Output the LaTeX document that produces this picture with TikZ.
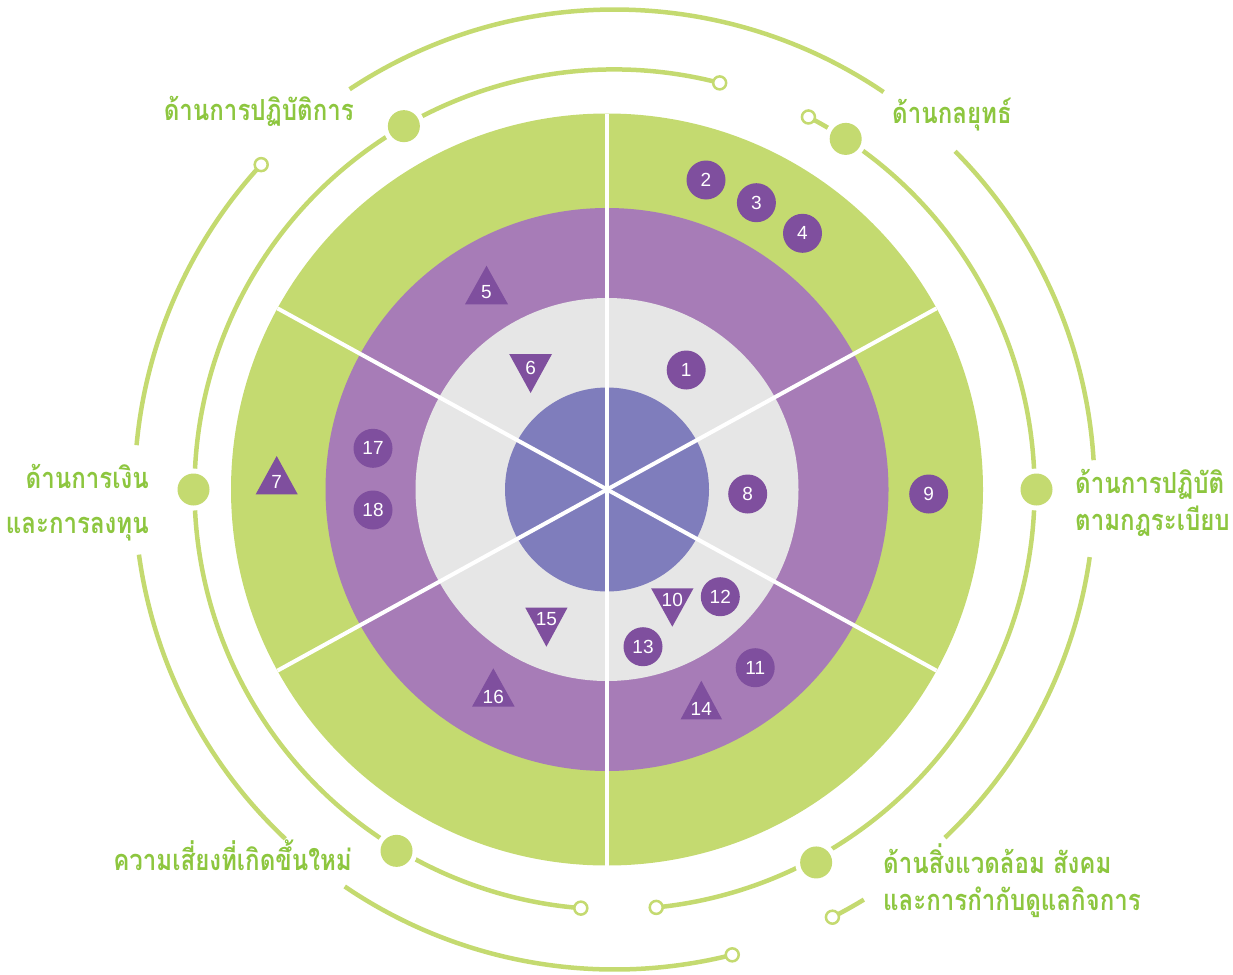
\documentclass[tikz,border=0pt]{standalone}
\usepackage{fontspec}
\usetikzlibrary{calc}
\newfontfamily\thaifont[Script=Thai, FakeStretch=0.83]{Loma}
\newfontfamily\numfont{Liberation Sans}
\definecolor{ringgreen}{RGB}{196,218,112}
\definecolor{labelgreen}{RGB}{141,198,63}
\definecolor{ringpurple}{RGB}{167,124,183}
\definecolor{ringgray}{RGB}{230,230,230}
\definecolor{coreblue}{RGB}{127,125,188}
\definecolor{markpurple}{RGB}{127,79,158}
\begin{document}
\begin{tikzpicture}[x=1pt,y=-1pt,
  arcline/.style={draw=ringgreen, line width=4.5},
  bigdot/.style={circle, fill=ringgreen, minimum size=32, inner sep=0pt, outer sep=0pt, preaction={draw=white, line width=10}},
  smalldot/.style={circle, draw=ringgreen, fill=white, line width=2.5, minimum size=13, inner sep=0pt},
  mcirc/.style={circle, fill=markpurple, minimum size=39, inner sep=0pt, text=white, font=\numfont\fontsize{19}{20}\selectfont},
  mnum/.style={inner sep=0pt, text=white, font=\numfont\fontsize{19}{20}\selectfont},
  lbl/.style={inner sep=0pt, text=labelgreen, font=\thaifont\bfseries\fontsize{29}{32}\selectfont},
  divider/.style={draw=white, line width=4}]
\useasboundingbox (0,0) rectangle (1233,974);
% ---- disc ----
\coordinate (O) at (607,489.5);
\fill[ringgreen] (O) circle (376);
\fill[ringpurple] (O) circle (281.5);
\fill[ringgray] (O) circle (191.5);
\fill[coreblue] (O) circle (102);
\draw[divider] ($(O)+(0,-376)$) -- ($(O)+(0,376)$);
\draw[divider] ($(O)+(28.8:376)$) -- ($(O)+(208.8:376)$);
\draw[divider] ($(O)+(-28.8:376)$) -- ($(O)+(151.2:376)$);
% ---- orbit arcs ----
\begin{scope}[shift={(614.5,489.5)}, yscale=-1]
  % inner ring
  \draw[arcline] (75.5:420) arc[start angle=75.5, end angle=265.4, radius=420];
  \draw[arcline] (62.5:420) arc[start angle=62.5, end angle=-84.3, radius=420];
  % outer ring
  \draw[arcline] (137.4:480) arc[start angle=137.4, end angle=174.7, radius=480];
  \draw[arcline] (187.8:480) arc[start angle=187.8, end angle=226.7, radius=480];
  \draw[arcline] (235.8:480) arc[start angle=235.8, end angle=284.2, radius=480];
  \draw[arcline] (55.9:480) arc[start angle=55.9, end angle=123.5, radius=480];
  \draw[arcline] (3.5:480) arc[start angle=3.5, end angle=44.8, radius=480];
  \draw[arcline] (-46.5:480) arc[start angle=-46.5, end angle=-8.1, radius=480];
  \draw[arcline] (-63:480) arc[start angle=-63, end angle=-58.7, radius=480];
  % big dots
  \node[bigdot] (dOps) at (120.1:420) {};
  \node[bigdot] (dStr) at (56.6:420) {};
  \node[bigdot] (dCmp) at (0:422) {};
  \node[bigdot] (dFin) at (180:421) {};
  \node[bigdot] (dEmg) at (238.9:422) {};
  \node[bigdot] (dEsg) at (-61.6:424) {};
  % small open dots
  \node[smalldot] (s1) at (75.5:420) {};
  \node[smalldot] (s2) at (62.5:420) {};
  \node[smalldot] (s3) at (265.4:420) {};
  \node[smalldot] (s4) at (-84.3:420) {};
  \node[smalldot] (s5) at (137.4:480) {};
  \node[smalldot] (s6) at (284.2:480) {};
  \node[smalldot] (s7) at (-63:480) {};
\end{scope}
% ---- labels ----
\node[lbl, anchor=base east] (lOps) at (354,120) {ด้านการปฏิบัติการ};
\node[lbl, anchor=base west] (lStr) at (892,123) {ด้านกลยุทธ์};
\node[lbl, anchor=base west] (lCmp1) at (1075,493) {ด้านการปฏิบัติ};
\node[lbl, anchor=base west] (lCmp2) at (1075,530) {ตามกฎระเบียบ};
\node[lbl, anchor=base east] (lFin1) at (149,488) {ด้านการเงิน};
\node[lbl, anchor=base east] (lFin2) at (149,533) {และการลงทุน};
\node[lbl, anchor=base east] (lEmg) at (352,870) {ความเสี่ยงที่เกิดขึ้นใหม่};
\node[lbl, anchor=base west] (lEsg1) at (883,873) {ด้านสิ่งแวดล้อม สังคม};
\node[lbl, anchor=base west] (lEsg2) at (883,910) {และการกำกับดูแลกิจการ};
% ---- circle markers ----
\node[mcirc] (m1) at (686.2,370) {1};
\node[mcirc] (m2) at (706,180) {2};
\node[mcirc] (m3) at (756.4,202.7) {3};
\node[mcirc] (m4) at (802.5,233.3) {4};
\node[mcirc] (m8) at (747.7,494) {8};
\node[mcirc] (m9) at (928.7,494) {9};
\node[mcirc] (m11) at (755.2,667.7) {11};
\node[mcirc] (m12) at (720.3,596.7) {12};
\node[mcirc] (m13) at (643,646.7) {13};
\node[mcirc] (m17) at (373,448.3) {17};
\node[mcirc] (m18) at (373,510) {18};
% ---- triangle markers ----
\fill[markpurple] (486.5,265.7) -- (508,304.3) -- (465,304.3) -- cycle;
\node[mnum] (m5) at (486.5,291.7) {5};
\fill[markpurple] (276.7,456) -- (297.7,494.3) -- (255.7,494.3) -- cycle;
\node[mnum] (m7) at (276.7,482) {7};
\fill[markpurple] (493.3,668.3) -- (514.7,706.7) -- (472,706.7) -- cycle;
\node[mnum] (m16) at (493.3,697.3) {16};
\fill[markpurple] (701.3,680.7) -- (722,719.3) -- (680.6,719.3) -- cycle;
\node[mnum] (m14) at (701.3,709.3) {14};
\fill[markpurple] (530.6,393) -- (552,354) -- (509.2,354) -- cycle;
\node[mnum] (m6) at (530.6,368.3) {6};
\fill[markpurple] (672.3,626.7) -- (693.5,588.3) -- (651.1,588.3) -- cycle;
\node[mnum] (m10) at (672.3,600) {10};
\fill[markpurple] (546.4,646.7) -- (567.5,607.7) -- (525.3,607.7) -- cycle;
\node[mnum] (m15) at (546.4,619.3) {15};
\end{tikzpicture}
\end{document}
